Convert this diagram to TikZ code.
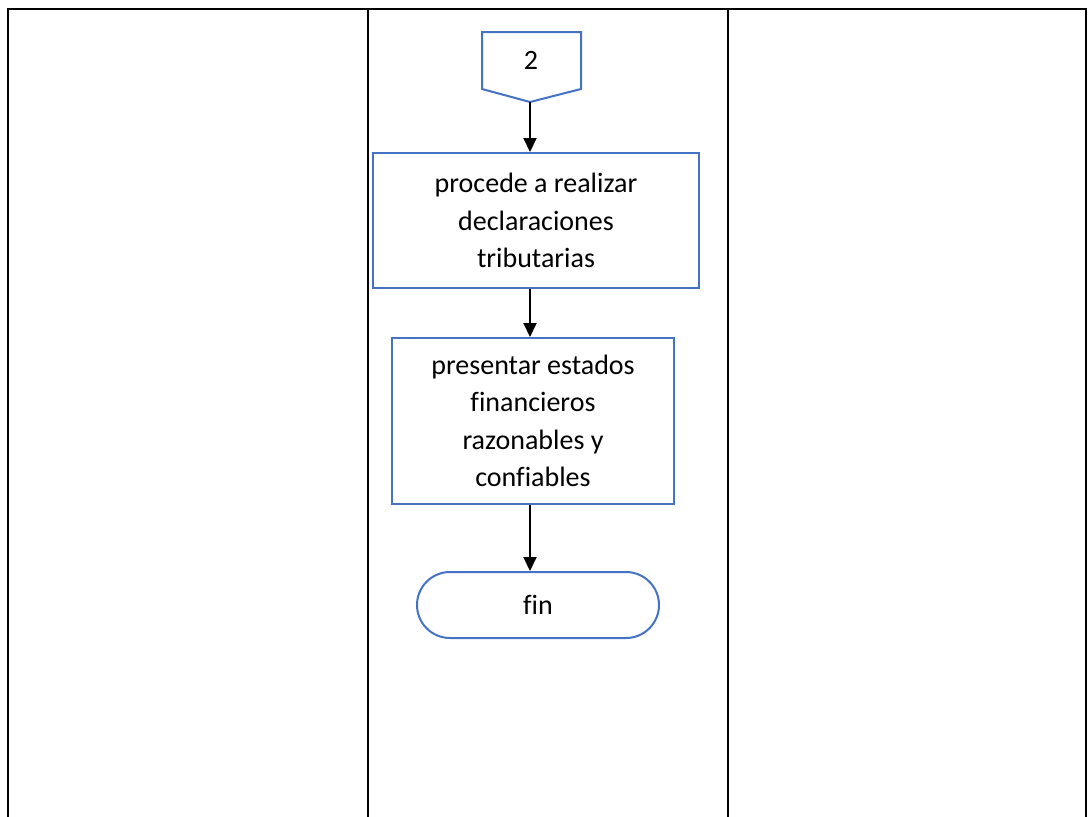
\documentclass[tikz,border=0pt]{standalone}
\usepackage{fontspec}
\setmainfont{Carlito}[Ligatures=NoCommon]
\usetikzlibrary{arrows.meta}
\definecolor{flowblue}{HTML}{4472C4}
\tikzset{
  tbl/.style={line width=2pt, black},
  flowline/.style={line width=2pt, draw=flowblue},
  proc/.style={flowline, rectangle, fill=white, align=center, inner sep=0pt,
    font=\fontsize{28}{37.5}\selectfont},
  term/.style={proc, rounded corners=33pt},
  link/.style={line width=2pt, black, -{Triangle[length=14pt,width=13pt]}},
  lbl/.style={font=\fontsize{28}{37.5}\selectfont, inner sep=0pt}
}
\begin{document}
\begin{tikzpicture}[x=1pt,y=-1pt]
\useasboundingbox (0,0) rectangle (1088,817);
% swimlane grid
\draw[tbl] (8,817) -- (8,9) -- (1086,9) -- (1086,817);
\draw[tbl] (368,9) -- (368,817);
\draw[tbl] (728,9) -- (728,817);
% off-page connector
\draw[flowline] (482,32) -- (581,32) -- (581,89) -- (530,102) -- (482,89) -- cycle;
\coordinate (tip) at (530,102);
\node[lbl] (conn) at (531,60) {2};
% process steps
\node[proc, minimum width=326pt, minimum height=135pt] (decl) at (536,220.5)
  {procede a realizar\\declaraciones\\tributarias};
\node[proc, minimum width=282pt, minimum height=166pt] (estados) at (533,421)
  {presentar estados\\financieros\\razonables y\\confiables};
\node[term, minimum width=242pt, minimum height=66pt] (fin) at (538,605) {fin};
% connectors
\draw[link] (tip) -- (tip |- decl.north);
\draw[link] (decl.south -| tip) -- (estados.north -| tip);
\draw[link] (estados.south -| tip) -- (fin.north -| tip);
\end{tikzpicture}
\end{document}
